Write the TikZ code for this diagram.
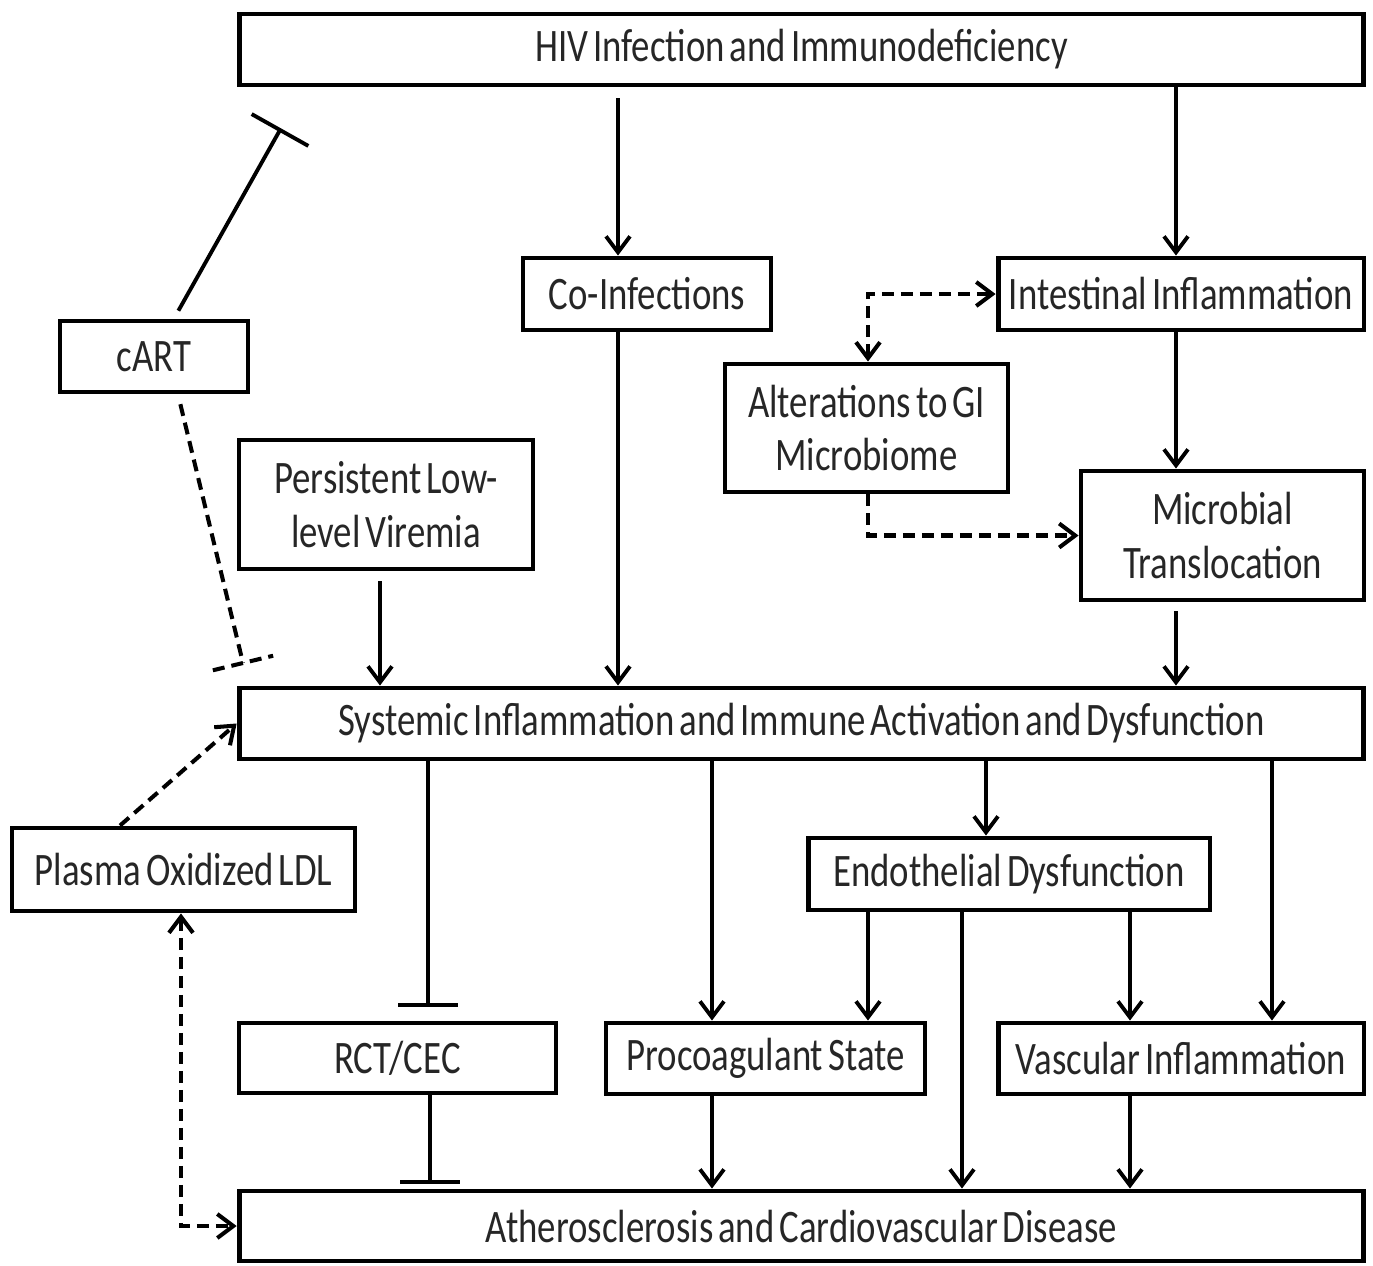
\documentclass[tikz,border=0pt]{standalone}
\usepackage{fontspec}
\setmainfont{Carlito}[FakeStretch=0.79,WordSpace=0.6]
\usetikzlibrary{arrows.meta,calc}
\begin{document}
\begin{tikzpicture}[x=0.02cm,y=-0.02cm,
  box/.style={draw,line width=2.8pt,inner sep=0pt,align=center,
    font=\fontsize{26.5}{30.5}\selectfont,text=black!85},
  tipb/.tip={Straight Barb[length=0.32cm,width=0.48cm]},
  con/.style={line width=2.2pt,-tipb},
  dcon/.style={line width=2.3pt,dash pattern=on 0.24cm off 0.14cm},
  inh/.style={line width=2.2pt}
]
\useasboundingbox (0,0) rectangle (1373,1265);
% boxes
\node[box,minimum width=22.5cm,minimum height=1.42cm] (hiv) at (801.5,49.5) {HIV Infection and Immunodeficiency};
\node[box,minimum width=4.96cm,minimum height=1.44cm] (coinf) at (647,294) {Co-Infections};
\node[box,minimum width=7.32cm,minimum height=1.44cm] (intest) at (1181,294) {Intestinal Inflammation};
\node[box,minimum width=3.76cm,minimum height=1.42cm] (cart) at (154,356.5) {cART};
\node[box,minimum width=5.66cm,minimum height=2.56cm] (alter) at (866.5,428) {Alterations to GI\\Microbiome};
\node[box,minimum width=5.88cm,minimum height=2.58cm] (persist) at (386,504.5) {Persistent Low-\\level Viremia};
\node[box,minimum width=5.66cm,minimum height=2.58cm] (micro) at (1222.5,535.5) {Microbial\\Translocation};
\node[box,minimum width=22.5cm,minimum height=1.42cm] (sys) at (801.5,723.5) {Systemic Inflammation and Immune Activation and Dysfunction};
\node[box,minimum width=6.86cm,minimum height=1.66cm] (ldl) at (183.5,869.5) {Plasma Oxidized LDL};
\node[box,minimum width=8.04cm,minimum height=1.44cm] (endo) at (1009,874) {Endothelial Dysfunction};
\node[box,minimum width=6.34cm,minimum height=1.40cm] (rct) at (397.5,1058) {RCT/CEC};
\node[box,minimum width=6.38cm,minimum height=1.42cm] (proco) at (765.5,1058.5) {Procoagulant State};
\node[box,minimum width=7.32cm,minimum height=1.42cm] (vasc) at (1181,1058.5) {Vascular Inflammation};
\node[box,minimum width=22.5cm,minimum height=1.40cm] (athero) at (801.5,1226) {Atherosclerosis and Cardiovascular Disease};
% x reference coordinates
\coordinate (x618) at (618,0);
\coordinate (x1176) at (1176,0);
\coordinate (x380) at (380,0);
\coordinate (x868) at (868,0);
\coordinate (x181) at (181,0);
\coordinate (x120) at (120,0);
\coordinate (x174) at (174,0);
\coordinate (x178) at (178,0);
\coordinate (x428) at (428,0);
\coordinate (x430) at (430,0);
\coordinate (x712) at (712,0);
\coordinate (x986) at (986,0);
\coordinate (x1272) at (1272,0);
\coordinate (x962) at (962,0);
\coordinate (x1130) at (1130,0);
% inhibition end points
\coordinate (hivbar) at (280,130);
\coordinate (sysbar) at (243,663);
\coordinate (rctbar) at (428,1005);
\coordinate (athbar) at (430,1182);
% solid arrows
\draw[con,shorten <=0.22cm] (hiv.south -| x618) -- (coinf.north -| x618);
\draw[con] (hiv.south -| x1176) -- (intest.north -| x1176);
\draw[con] (coinf.south -| x618) -- (sys.north -| x618);
\draw[con,shorten <=0.2cm] (persist.south -| x380) -- (sys.north -| x380);
\draw[con] (intest.south -| x1176) -- (micro.north -| x1176);
\draw[con,shorten <=0.18cm] (micro.south -| x1176) -- (sys.north -| x1176);
\draw[con] (sys.south -| x712) -- (proco.north -| x712);
\draw[con] (sys.south -| x986) -- (endo.north -| x986);
\draw[con] (sys.south -| x1272) -- (vasc.north -| x1272);
\draw[con] (endo.south -| x868) -- (proco.north -| x868);
\draw[con] (endo.south -| x962) -- (athero.north -| x962);
\draw[con] (endo.south -| x1130) -- (vasc.north -| x1130);
\draw[con] (proco.south -| x712) -- (athero.north -| x712);
\draw[con] (vasc.south -| x1130) -- (athero.north -| x1130);
% dashed arrows
\draw[dcon,tipb-tipb] (alter.north -| x868) |- (intest.west);
\draw[dcon,-tipb] (alter.south -| x868) |- (micro.west);
\draw[dcon,-tipb] (ldl.north -| x120) -- (sys.west);
\draw[dcon,tipb-tipb] (ldl.south -| x181) |- (athero.west);
% inhibitions
\draw[inh,shorten <=0.18cm] (cart.north -| x174) -- (hivbar);
\draw[inh] ($(hivbar)!0.65cm!90:(cart.north -| x174)$) -- ($(hivbar)!0.65cm!-90:(cart.north -| x174)$);
\draw[dcon,shorten <=0.2cm] (cart.south -| x178) -- (sysbar);
\draw[dcon] ($(sysbar)!0.62cm!90:(cart.south -| x178)$) -- ($(sysbar)!0.62cm!-90:(cart.south -| x178)$);
\draw[inh] (sys.south -| x428) -- (rctbar);
\draw[inh] ($(rctbar)!0.6cm!90:(sys.south -| x428)$) -- ($(rctbar)!0.6cm!-90:(sys.south -| x428)$);
\draw[inh] (rct.south -| x430) -- (athbar);
\draw[inh] ($(athbar)!0.6cm!90:(rct.south -| x430)$) -- ($(athbar)!0.6cm!-90:(rct.south -| x430)$);
\end{tikzpicture}
\end{document}
